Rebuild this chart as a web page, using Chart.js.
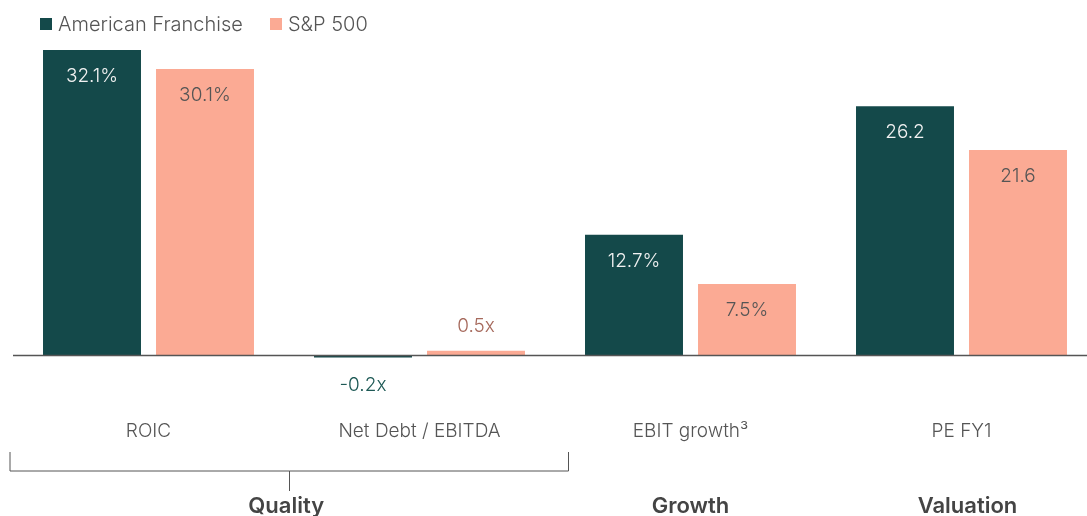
<!DOCTYPE html>
<html>
<head>
<meta charset="utf-8">
<script src="https://cdn.jsdelivr.net/npm/chart.js@4/dist/chart.umd.min.js"></script>
<style>
  html, body { margin: 0; padding: 0; background: #ffffff; overflow: hidden; }
  #wrap { position: relative; width: 1100px; height: 516px; }
  #legend { position: absolute; left: 40px; top: 12px; display: flex; align-items: center;
            font-family: Inter, "Open Sans", sans-serif; font-weight: 300; font-size: 20px; color: #555; }
  .item { display: flex; align-items: center; margin-right: 27px; }
  .box { width: 12px; height: 12px; margin-right: 6px; }
</style>
</head>
<body>
<div id="wrap">
  <canvas id="c" width="1100" height="516"></canvas>
  <div id="legend"></div>
</div>
<script>
const categories = ['ROIC', 'Net Debt / EBITDA', 'EBIT growth\u00B3', 'PE FY1'];
const seriesNames = ['American Franchise', 'S&P 500'];
const americanFranchise = [32.1, -0.2, 12.7, 26.2];
const sp500 = [30.1, 0.5, 7.5, 21.6];
const valueLabelsAF = ['32.1%', '-0.2x', '12.7%', '26.2'];
const valueLabelsSP = ['30.1%', '0.5x', '7.5%', '21.6'];
const groupNames = ['Quality', 'Growth', 'Valuation'];
const groupFirst = [0, 2, 3];
const groupLast = [1, 2, 3];

const colors = ['#14494A', '#FBAA94'];
const FONT = 'Inter, "Open Sans", sans-serif';

// HTML legend built from series
const leg = document.getElementById('legend');
seriesNames.forEach((n, i) => {
  const it = document.createElement('div'); it.className = 'item';
  const b = document.createElement('div'); b.className = 'box'; b.style.background = colors[i];
  const t = document.createElement('span'); t.textContent = n;
  it.appendChild(b); it.appendChild(t); leg.appendChild(it);
});

const labelsPlugin = {
  id: 'labelsPlugin',
  afterDatasetsDraw(chart) {
    const ctx = chart.ctx;
    const x = chart.scales.x, y = chart.scales.y;
    const ca = chart.chartArea;
    // baseline
    const y0 = y.getPixelForValue(0);
    ctx.save();
    ctx.strokeStyle = '#555555';
    ctx.lineWidth = 1.5;
    ctx.beginPath(); ctx.moveTo(ca.left, y0); ctx.lineTo(chart.width, y0); ctx.stroke();

    // value labels
    ctx.font = '300 19px ' + FONT;
    ctx.textAlign = 'center';
    ctx.textBaseline = 'alphabetic';
    const labelSets = [valueLabelsAF, valueLabelsSP];
    chart.data.datasets.forEach((ds, di) => {
      const meta = chart.getDatasetMeta(di);
      meta.data.forEach((bar, i) => {
        const v = ds.data[i];
        const txt = labelSets[di][i];
        if (Math.abs(v) >= 3) {
          ctx.fillStyle = di === 0 ? '#F2F2F2' : '#555555';
          ctx.fillText(txt, bar.x, bar.y + 32);
        } else if (v >= 0) {
          ctx.fillStyle = '#A6695C';
          ctx.fillText(txt, bar.x, bar.y - 19);
        } else {
          ctx.fillStyle = '#1D5955';
          ctx.fillText(txt, bar.x, bar.y + 34);
        }
      });
    });

    // bracket under first group
    const half = (x.getPixelForValue(1) - x.getPixelForValue(0)) / 2;
    const bl = x.getPixelForValue(groupFirst[0]) - half - 3.5;
    const br = x.getPixelForValue(groupLast[0]) + half + 14;
    const by = ca.bottom + 96.5;
    ctx.strokeStyle = '#555555';
    ctx.lineWidth = 1;
    ctx.beginPath();
    ctx.moveTo(bl + 0.5, ca.bottom + 77.5); ctx.lineTo(bl + 0.5, by);
    ctx.lineTo(br - 0.5, by); ctx.lineTo(br - 0.5, ca.bottom + 77.5);
    const bm = Math.round((bl + br) / 2) + 0.5;
    ctx.moveTo(bm, by); ctx.lineTo(bm, by + 20);
    ctx.stroke();

    // group labels
    ctx.font = '600 22px ' + FONT;
    ctx.fillStyle = '#444444';
    groupNames.forEach((g, gi) => {
      let cx;
      if (gi === 0) cx = (bl + br) / 2 - 3;
      else cx = (x.getPixelForValue(groupFirst[gi]) + x.getPixelForValue(groupLast[gi])) / 2 + (gi === 2 ? 6 : 0);
      ctx.fillText(g, cx, ca.bottom + 138);
    });
    ctx.restore();
  }
};

new Chart(document.getElementById('c'), {
  type: 'bar',
  data: {
    labels: categories,
    datasets: [
      { label: seriesNames[0], data: americanFranchise, backgroundColor: colors[0], borderWidth: 0 },
      { label: seriesNames[1], data: sp500, backgroundColor: colors[1], borderWidth: 0 }
    ]
  },
  options: {
    responsive: false,
    animation: false,
    devicePixelRatio: 1,
    categoryPercentage: 0.834,
    barPercentage: 0.867,
    layout: { padding: { left: 13, right: 3, top: 32, bottom: 0 } },
    plugins: { legend: { display: false }, tooltip: { enabled: false } },
    scales: {
      x: {
        grid: { display: false, drawTicks: false },
        border: { display: false },
        ticks: { color: '#555555', font: { family: FONT, size: 19, weight: '300' }, padding: 45, maxRotation: 0, autoSkip: false },
        afterFit(s) { s.height = 141.5; }
      },
      y: { display: false, min: -2, max: 34 }
    }
  },
  plugins: [labelsPlugin]
});
</script>
</body>
</html>
